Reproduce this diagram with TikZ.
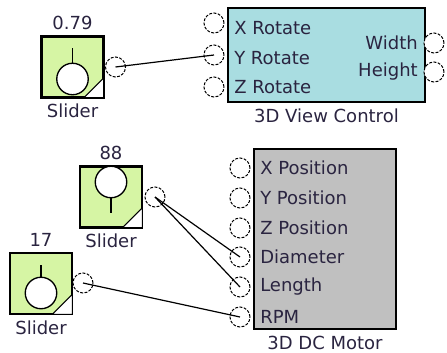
\documentclass[tikz,border=0pt]{standalone}
\usepackage{fontspec}
\setmainfont{DejaVu Sans}
\usetikzlibrary{calc}
\definecolor{sliderfill}{HTML}{D6F5A4}
\definecolor{viewfill}{HTML}{A9DDE1}
\definecolor{motorfill}{HTML}{C0C0C0}
\definecolor{ink}{HTML}{2A2440}

\tikzset{
  slider/.style={draw, line width=1.2pt, fill=sliderfill, minimum width=45.75pt, minimum height=45pt, inner sep=0pt},
  block/.style={draw, line width=1.2pt, inner sep=0pt},
  port/.style={circle, draw, fill=white, line width=0.75pt, dash pattern=on 2.2pt off 1.1pt, minimum size=15pt, inner sep=0pt},
  pin/.style={inner sep=0pt, text=ink},
  wire/.style={line width=0.9pt}
}

\begin{document}
\begin{tikzpicture}[x=0.75pt,y=-0.75pt,font=\fontsize{13.5}{16}\selectfont]
  \useasboundingbox (0,0) rectangle (447,353);

  \foreach \n/\x/\y/\v/\ky/\sy in {sa/72.5/67/0.79/79/48, sb/111/197/88/182/213, sc/41/283.5/17/293/265}{
    \node[slider] (\n) at (\x,\y) {};
    \filldraw[fill=white, line width=0.8pt] ($(\n.south east)+(-20,0)$) -- (\n.south east) -- ($(\n.south east)+(0,-20)$) -- cycle;
    \draw[line width=1.2pt] (\n.north west) rectangle (\n.south east);
    \draw[line width=1pt] (\x,\ky) -- (\x,\sy);
    \filldraw[fill=white, line width=1pt] (\x,\ky) circle [radius=11.8pt];
    \node[pin, anchor=south] (\n-val) at ($(\n.north)+(0,-6)$) {\v};
    \node[pin, anchor=north] (\n-lbl) at ($(\n.south)+(0,6)$) {Slider};
  }
  \node[port] (sa-out) at (115.5,67) {};
  \node[port] (sb-out) at (155,197) {};
  \node[port] (sc-out) at (83,283) {};

  \node[block, fill=viewfill, minimum width=147.75pt, minimum height=70.5pt] (view) at (326.5,55) {};
  \node[pin, anchor=north] (view-lbl) at ($(view.south)+(0,6)$) {3D View Control};
  \foreach \n/\t/\y/\ty in {xr/X Rotate/23/28, yr/Y Rotate/55/58, zr/Z Rotate/87/87}{
    \node[port] (\n) at (214,\y) {};
    \node[pin, anchor=west] (\n-lbl) at (234,\ty) {\t};
  }
  \foreach \n/\t/\y in {wd/Width/43, ht/Height/72}{
    \node[port] (\n) at (434,\y) {};
    \node[pin, anchor=east] (\n-lbl) at (418,\y) {\t};
  }

  \node[block, fill=motorfill, minimum width=106.5pt, minimum height=135pt] (motor) at (325,239) {};
  \node[pin, anchor=north] (motor-lbl) at ($(motor.south)+(0,6)$) {3D DC Motor};
  \foreach \n/\t/\y in {xp/X Position/168, yp/Y Position/198, zp/Z Position/228, dm/Diameter/257, ln/Length/287, rpm/RPM/317}{
    \node[port] (\n) at (240,\y) {};
    \node[pin, anchor=west] (\n-lbl) at (260,\y) {\t};
  }

  \draw[wire] (sa-out.center) -- (yr.center);
  \draw[wire] (sb-out.center) -- (dm.center);
  \draw[wire] (sb-out.center) -- (ln.center);
  \draw[wire] (sc-out.center) -- (rpm.center);
\end{tikzpicture}
\end{document}
